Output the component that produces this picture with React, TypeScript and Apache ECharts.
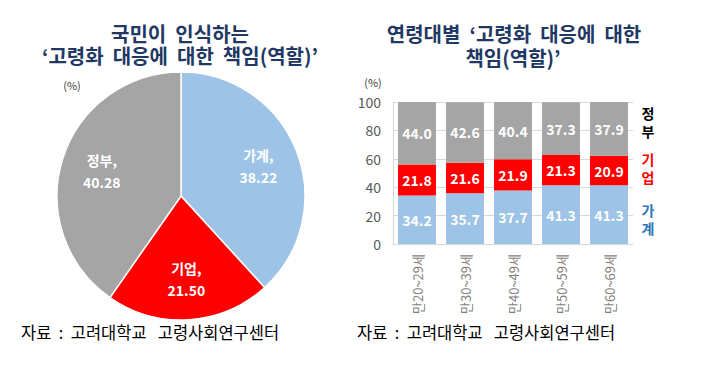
import React, { useEffect, useRef } from "react";
import * as echarts from "echarts";

const pieNames = ["가계", "기업", "정부"];
const pieValues = [38.22, 21.5, 40.28];

const ageGroups = ["만20~29세", "만30~39세", "만40~49세", "만50~59세", "만60~69세"];
const householdValues = [34.2, 35.7, 37.7, 41.3, 41.3];
const companyValues = [21.8, 21.6, 21.9, 21.3, 20.9];
const governmentValues = [44.0, 42.6, 40.4, 37.3, 37.9];

const BLUE = "#9DC3E6";
const RED = "#FF0000";
const GRAY = "#A5A5A5";
const NAVY = "#1F3864";
const FONT = "'Noto Sans CJK KR', 'Noto Sans', sans-serif";

export default function App() {
  const ref = useRef<HTMLDivElement>(null);
  useEffect(() => {
    document.body.style.margin = "0";
    const chart = echarts.init(ref.current!, null, { renderer: "svg" });
    const colors = [BLUE, RED, GRAY];
    const pieData = pieNames.map((n, i) => ({ name: n, value: pieValues[i], itemStyle: { color: colors[i] } }));
    const barLabel = {
      show: true,
      position: "inside",
      color: "#fff",
      fontWeight: "bold",
      fontSize: 14,
      fontFamily: FONT,
      formatter: (p: any) => p.value.toFixed(1),
    };
    const titleStyle = { fill: NAVY, font: `bold 20px ${FONT}`, lineHeight: 22, textAlign: "center", textVerticalAlign: "middle" };
    const footStyle = { fill: "#000", font: `16.5px ${FONT}`, textVerticalAlign: "middle" };
    chart.setOption({
      animation: false,
      textStyle: { fontFamily: FONT },
      grid: { left: 393, right: 81, top: 102, bottom: 124 },
      xAxis: {
        type: "category",
        data: ageGroups,
        axisLine: { lineStyle: { color: "#D9D9D9" } },
        axisTick: { show: false },
        axisLabel: { rotate: 90, color: "#7F7F7F", fontSize: 13, fontFamily: FONT, margin: 10 },
      },
      yAxis: {
        type: "value",
        min: 0,
        max: 100,
        interval: 20,
        axisLine: { show: true, lineStyle: { color: "#D9D9D9" } },
        axisTick: { show: false },
        splitLine: { lineStyle: { color: "#D9D9D9" } },
        axisLabel: { color: "#595959", fontSize: 14, fontFamily: FONT, margin: 12 },
      },
      series: [
        {
          type: "pie",
          center: [181, 196],
          radius: [0, 124],
          startAngle: 90,
          clockwise: true,
          data: pieData,
          label: { show: false },
          labelLine: { show: false },
          itemStyle: { borderColor: "#fff", borderWidth: 1.5 },
          emphasis: { disabled: true },
        },
        {
          type: "pie",
          center: [181, 196],
          radius: [36, 124],
          startAngle: 90,
          clockwise: true,
          silent: true,
          data: pieNames.map((n, i) => ({ name: n, value: pieValues[i] })),
          itemStyle: { color: "rgba(0,0,0,0)" },
          label: {
            show: true,
            position: "inside",
            color: "#fff",
            fontWeight: "bold",
            fontSize: 14,
            lineHeight: 22,
            fontFamily: FONT,
            formatter: (p: any) => `${p.name},\n${p.value.toFixed(2)}`,
          },
          labelLine: { show: false },
        },
        { type: "bar", stack: "s", data: householdValues, itemStyle: { color: BLUE }, barCategoryGap: "21%", label: barLabel },
        { type: "bar", stack: "s", data: companyValues, itemStyle: { color: RED }, label: barLabel },
        { type: "bar", stack: "s", data: governmentValues, itemStyle: { color: GRAY }, label: barLabel },
      ],
      graphic: [
        { type: "text", x: 180, y: 44, style: { ...titleStyle, text: "국민이  인식하는\n‘고령화  대응에  대한  책임(역할)’" } },
        { type: "text", x: 514, y: 33, style: { ...titleStyle, text: "연령대별  ‘고령화  대응에  대한" } },
        { type: "text", x: 513, y: 57, style: { ...titleStyle, text: "책임(역할)’" } },
        { type: "text", x: 72, y: 85, style: { text: "(%)", fill: "#404040", font: `11px ${FONT}`, textAlign: "center", textVerticalAlign: "middle" } },
        { type: "text", x: 373, y: 82, style: { text: "(%)", fill: "#404040", font: `11px ${FONT}`, textAlign: "center", textVerticalAlign: "middle" } },
        { type: "text", x: 648, y: 122, style: { text: "정\n부", fill: "#000", font: `bold 14px ${FONT}`, lineHeight: 18, textAlign: "center", textVerticalAlign: "middle" } },
        { type: "text", x: 648, y: 168, style: { text: "기\n업", fill: RED, font: `bold 14px ${FONT}`, lineHeight: 18, textAlign: "center", textVerticalAlign: "middle" } },
        { type: "text", x: 648, y: 219, style: { text: "가\n계", fill: "#2E75B6", font: `bold 14px ${FONT}`, lineHeight: 18, textAlign: "center", textVerticalAlign: "middle" } },
        { type: "text", x: 21, y: 332, style: { ...footStyle, text: "자료  :  고려대학교   고령사회연구센터" } },
        { type: "text", x: 357, y: 332, style: { ...footStyle, text: "자료  :  고려대학교   고령사회연구센터" } },
      ],
    });
    return () => chart.dispose();
  }, []);
  return <div ref={ref} style={{ width: 714, height: 368 }} />;
}
